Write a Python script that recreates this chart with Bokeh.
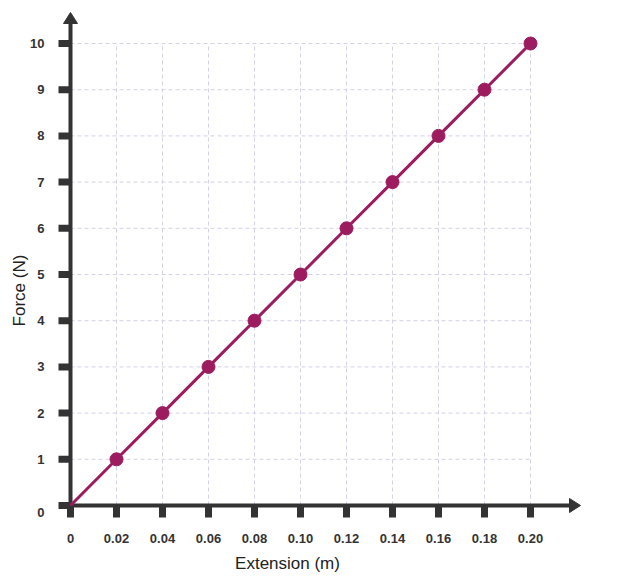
import math
from bokeh.plotting import figure
from bokeh.models import Range1d
from bokeh.core.properties import value
from bokeh.embed import file_html
from bokeh.resources import INLINE

# ---- data ----
extension = [0.0, 0.02, 0.04, 0.06, 0.08, 0.10, 0.12, 0.14, 0.16, 0.18, 0.20]
force = [0, 1, 2, 3, 4, 5, 6, 7, 8, 9, 10]
x_ticks = [0.0, 0.02, 0.04, 0.06, 0.08, 0.10, 0.12, 0.14, 0.16, 0.18, 0.20]
x_tick_labels = ["0", "0.02", "0.04", "0.06", "0.08", "0.10", "0.12", "0.14", "0.16", "0.18", "0.20"]
y_ticks = [0, 1, 2, 3, 4, 5, 6, 7, 8, 9, 10]
y_tick_labels = ["0", "1", "2", "3", "4", "5", "6", "7", "8", "9", "10"]
x_title = "Extension (m)"
y_title = "Force (N)"

LINE_COLOR = "#9c1c5f"
AXIS_COLOR = "#333333"
GRID_COLOR = "#d2d2e8"
FONT = "Liberation Sans"

W, H = 608, 575
ORIGIN_X, ORIGIN_Y = 70, 505          # pixel position of (0, 0) from top-left
px_per_x = 460 / 0.20
px_per_y = 462 / 10


def dx(px):
    return px / px_per_x


def dy(px):
    return px / px_per_y


p = figure(width=W, height=H, output_backend="svg", toolbar_location=None,
           x_range=Range1d(-dx(ORIGIN_X), dx(W - ORIGIN_X)),
           y_range=Range1d(-dy(H - ORIGIN_Y), dy(ORIGIN_Y)),
           x_axis_location=None, y_axis_location=None,
           min_border=0)
p.outline_line_color = None
p.xgrid.visible = False
p.ygrid.visible = False
p.background_fill_color = "white"
p.border_fill_color = "white"

xmax = x_ticks[-1]
ymax = y_ticks[-1]

# grid (dashed) inside data area
gx = x_ticks[1:]
p.segment(x0=gx, y0=[0] * len(gx), x1=gx, y1=[ymax] * len(gx),
          line_color=GRID_COLOR, line_width=1, line_dash="4 3")
gy = y_ticks[1:]
p.segment(x0=[0] * len(gy), y0=gy, x1=[xmax] * len(gy), y1=gy,
          line_color=GRID_COLOR, line_width=1, line_dash="4 3")

# axis lines with arrow heads
x_tip = dx(580 - ORIGIN_X)
y_tip = dy(ORIGIN_Y - 12)
head_len = 11
head_half = 7
p.segment(x0=[-dx(2), 0], y0=[0, -dy(2)], x1=[x_tip - dx(head_len), 0], y1=[0, y_tip - dy(head_len)],
          line_color=AXIS_COLOR, line_width=4, line_cap="butt")
p.patches(xs=[[x_tip, x_tip - dx(head_len), x_tip - dx(head_len)],
              [0, -dx(head_half), dx(head_half)]],
          ys=[[0, dy(head_half), -dy(head_half)],
              [y_tip, y_tip - dy(head_len), y_tip - dy(head_len)]],
          fill_color=AXIS_COLOR, line_color=AXIS_COLOR, line_width=1)

# tick marks
p.segment(x0=x_ticks, y0=[0] * len(x_ticks), x1=x_ticks, y1=[-dy(12)] * len(x_ticks),
          line_color=AXIS_COLOR, line_width=7, line_cap="butt")
p.segment(x0=[0] * len(y_ticks), y0=y_ticks, x1=[-dx(12)] * len(y_ticks), y1=y_ticks,
          line_color=AXIS_COLOR, line_width=7, line_cap="butt")

# tick labels
label_style = dict(text_font=value(FONT), text_font_style="bold", text_font_size="13px",
                   text_color=AXIS_COLOR, text_baseline="middle")
p.text(x=x_ticks, y=[0] * len(x_ticks), text=x_tick_labels, y_offset=33,
       text_align="center", **label_style)
p.text(x=[0] * (len(y_ticks) - 1), y=y_ticks[1:], text=y_tick_labels[1:], x_offset=-26,
       text_align="right", **label_style)
p.text(x=[0], y=y_ticks[:1], text=y_tick_labels[:1], x_offset=-26, y_offset=7,
       text_align="right", **label_style)

# data
p.line(extension, force, line_color=LINE_COLOR, line_width=3)
p.scatter(extension[1:], force[1:], size=13, fill_color=LINE_COLOR, line_color=LINE_COLOR)

# axis titles
p.text(x=[dx(287 - ORIGIN_X)], y=[0], text=[x_title], y_offset=58,
       text_align="center", text_baseline="middle",
       text_font=value(FONT), text_font_size="17px", text_color="#222222")
p.text(x=[0], y=[dy(ORIGIN_Y - 290)], text=[y_title], x_offset=-51.5, angle=math.pi / 2,
       text_align="center", text_baseline="middle",
       text_font=value(FONT), text_font_size="17px", text_color="#222222")

open("out.html", "w").write(file_html(p, INLINE))
